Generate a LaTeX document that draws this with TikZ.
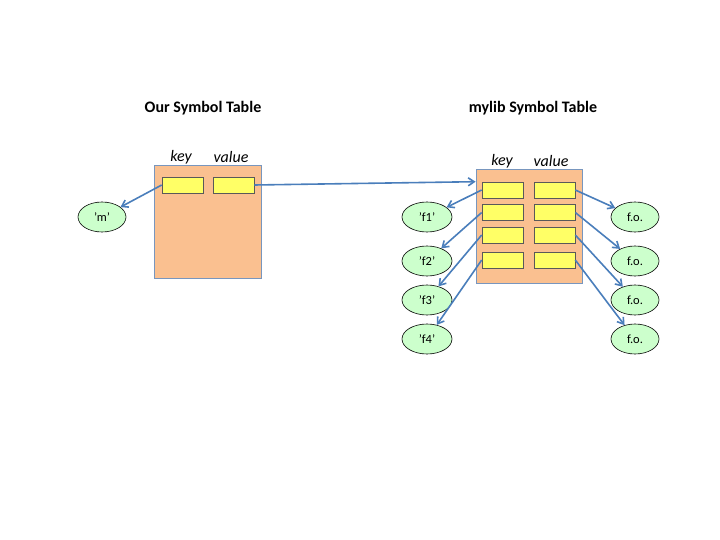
\documentclass[tikz,border=0pt]{standalone}
\usepackage{fontspec}
\setmainfont{Carlito}
\usepackage{tikz}
\usetikzlibrary{arrows.meta}
\usetikzlibrary{shapes.geometric}
\usetikzlibrary{positioning}

\definecolor{tblfill}{RGB}{250,192,144}
\definecolor{tbledge}{RGB}{120,150,190}
\definecolor{slotfill}{RGB}{255,255,102}
\definecolor{ovalfill}{RGB}{204,255,204}
\definecolor{ptrblue}{RGB}{74,126,187}

\tikzset{
	table/.style={draw=tbledge, fill=tblfill, line width=0.8pt, minimum width=107pt, minimum height=113pt, inner sep=0pt},
	slot/.style={draw=gray!70!black, fill=slotfill, line width=0.6pt, minimum width=41pt, minimum height=16pt, inner sep=0pt},
	oval/.style={ellipse, draw=black, fill=ovalfill, line width=0.6pt, minimum width=48pt, minimum height=30pt, inner sep=0pt, font=\fontsize{12.5}{14}\selectfont},
	title/.style={font=\fontsize{16}{18}\selectfont\bfseries},
	colhead/.style={font=\fontsize{16}{18}\selectfont\itshape},
	ptr/.style={draw=ptrblue, line width=1.6pt, -{Straight Barb[length=6pt,width=8pt]}}
}

\begin{document}
\begin{tikzpicture}[x=1pt,y=-1pt]
		\useasboundingbox (0,0) rectangle (720,540);
		% our table
		\draw (203,108) node[title] (title1) {Our Symbol Table};
		\draw (207.5,221.5) node[table] (tbl1) {};
		\draw (181,157) node[colhead] (key1) {key};
		\draw (231,157) node[colhead] (val1) {value};
		\draw (182.5,185) node[slot] (k0) {};
		\draw (233.5,185) node[slot] (v0) {};
		\draw (102,217) node[oval] (m) {'m'};
		% mylib table
		\draw (533,108) node[title] (title2) {mylib Symbol Table};
		\draw (529,226) node[table, minimum width=106pt, minimum height=114pt] (tbl2) {};
		\draw (502,161) node[colhead] (key2) {key};
		\draw (551,161) node[colhead] (val2) {value};
		\foreach \i/\y in {1/190, 2/212.5, 3/235, 4/260} {
			\draw (502.5,\y) node[slot] (k\i) {};
			\draw (554.5,\y) node[slot] (v\i) {};
		}
		\foreach \i/\y in {1/217, 2/261, 3/300, 4/339} {
			\draw (427,\y) node[oval, minimum width=50pt] (f\i) {'f\i'};
			\draw (635,\y) node[oval] (fo\i) {f.o.};
		}
		% pointers
		\draw[ptr] (k0.west) -- (m);
		\draw[ptr] (v0.east) -- (k1.north -| tbl2.west);
		\foreach \i in {1,...,4} {
			\draw[ptr] (k\i.west) -- (f\i);
			\draw[ptr] (v\i.east) -- (fo\i);
		}
\end{tikzpicture}
\end{document}
